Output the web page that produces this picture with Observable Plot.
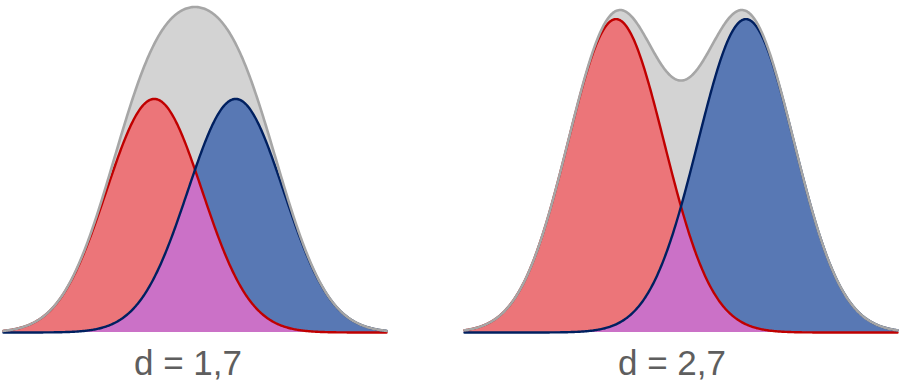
<!DOCTYPE html>
<html>
<head>
<meta charset="utf-8">
<script src="https://cdn.jsdelivr.net/npm/d3@7"></script>
<script src="https://cdn.jsdelivr.net/npm/@observablehq/plot@0.6"></script>
<style>
  html, body { margin: 0; padding: 0; background: #fff; }
  #wrap { position: relative; width: 900px; height: 383px; overflow: hidden; }
  .panel { position: absolute; top: 0; }
  .label { position: absolute; width: 200px; text-align: center;
           font-family: "Liberation Sans", Arial, Helvetica, sans-serif; font-size: 35px;
           line-height: 35px; color: #5e5e5e; top: 345px; }
</style>
</head>
<body>
<div id="wrap"></div>
<script>
// Effect sizes (distance between the two means, in SD units) and their labels
const effectSizes = [1.7, 2.7];
const panelLabels = ["d = 1,7", "d = 2,7"];
const sd = 1;

// Layout (not data)
const layouts = [
  {left: 0,   width: 390, mL: 3, mR: 4, mT: 6.5, half: 4.0, labelLeft: 88},
  {left: 460, width: 440, mL: 4, mR: 3, mT: 9.5, half: 4.5, labelLeft: 572}
];

const C = {
  grayFill: "#d3d3d3", grayStroke: "#a6a6a6",
  redFill: "#ec7579", redStroke: "#c00000",
  blueFill: "#5878b4", blueStroke: "#002060",
  purple: "#cb71c7"
};

const pdf = (x, mu) => Math.exp(-0.5 * ((x - mu) / sd) ** 2);

const wrap = document.getElementById("wrap");
effectSizes.forEach((d, i) => {
  const L = layouts[i];
  const xs = d3.range(-L.half, L.half + 1e-9, 0.02);
  const rows = xs.map(x => {
    const r = pdf(x, -d / 2), b = pdf(x, d / 2);
    return {x, r, b, s: r + b, m: Math.min(r, b)};
  });
  const ymax = d3.max(rows, r => r.s);
  const H = 340;
  const chart = Plot.plot({
    width: L.width, height: H,
    marginLeft: L.mL, marginRight: L.mR, marginTop: L.mT, marginBottom: 8,
    x: {domain: [-L.half, L.half], axis: null},
    y: {domain: [0, ymax], axis: null},
    marks: [
      Plot.areaY(rows, {x: "x", y: "s", fill: C.grayFill}),
      Plot.areaY(rows, {x: "x", y: "r", fill: C.redFill}),
      Plot.areaY(rows, {x: "x", y: "b", fill: C.blueFill}),
      Plot.areaY(rows, {x: "x", y: "m", fill: C.purple}),
      Plot.line(rows, {x: "x", y: "r", stroke: C.redStroke, strokeWidth: 2.4}),
      Plot.line(rows, {x: "x", y: "b", stroke: C.blueStroke, strokeWidth: 2.4}),
      Plot.line(rows, {x: "x", y: "s", stroke: C.grayStroke, strokeWidth: 2.6})
    ]
  });
  const div = document.createElement("div");
  div.className = "panel";
  div.style.left = L.left + "px";
  div.appendChild(chart);
  wrap.appendChild(div);
  const lab = document.createElement("div");
  lab.className = "label";
  lab.style.left = L.labelLeft + "px";
  lab.textContent = panelLabels[i];
  wrap.appendChild(lab);
});
</script>
</body>
</html>
